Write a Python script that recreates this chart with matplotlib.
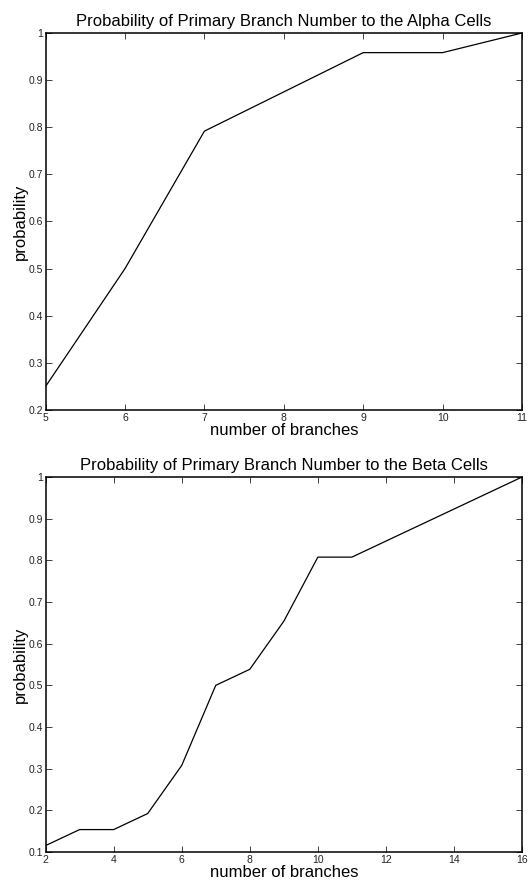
import matplotlib
matplotlib.use('Agg')
import matplotlib.pyplot as plt
import numpy as np
from matplotlib.ticker import FormatStrFormatter, FuncFormatter

plt.rcParams['font.family'] = ['Liberation Sans', 'DejaVu Sans']

# alpha cells
alpha_n = [5, 6, 7, 8, 9, 10, 11]
alpha_p = [0.25, 0.5, 0.7917, 0.875, 0.9583, 0.9583, 1.0]

# beta cells
beta_n = [2, 3, 4, 5, 6, 7, 8, 9, 10, 11, 16]
beta_p = [0.1154, 0.1538, 0.1538, 0.1923, 0.3077, 0.5, 0.5385, 0.6538, 0.8077, 0.8077, 1.0]

alpha_xticks = [5, 6, 7, 8, 9, 10, 11]
alpha_yticks = [0.2, 0.3, 0.4, 0.5, 0.6, 0.7, 0.8, 0.9, 1.0]
beta_xticks = [2, 4, 6, 8, 10, 12, 14, 16]
beta_yticks = [0.1, 0.2, 0.3, 0.4, 0.5, 0.6, 0.7, 0.8, 0.9, 1.0]

fig = plt.figure(figsize=(5.30, 8.84), dpi=100)
ax1 = fig.add_axes([0.086, 0.5362, 0.899, 0.4265])
ax2 = fig.add_axes([0.086, 0.0362, 0.899, 0.4242])

fmt = FuncFormatter(lambda v, pos: '%g' % round(v, 2))


def style(ax, x, y, xt, yt, title):
    ax.plot(x, y, 'k-', lw=0.9)
    ax.set_xlim(xt[0], xt[-1])
    ax.set_ylim(yt[0], yt[-1])
    ax.set_xticks(xt)
    ax.set_yticks(yt)
    ax.xaxis.set_major_formatter(fmt)
    ax.yaxis.set_major_formatter(fmt)
    ax.tick_params(direction='in', top=True, right=True, length=4,
                   width=0.6, labelsize=7.5, pad=2, colors='#222222')
    for s in ax.spines.values():
        s.set_linewidth(1.1)
    ax.set_title(title, fontsize=12, pad=5)
    ax.set_xlabel('number of branches', fontsize=12, labelpad=0)
    ax.set_ylabel('probability', fontsize=12, labelpad=0)


style(ax1, alpha_n, alpha_p, alpha_xticks, alpha_yticks,
      'Probability of Primary Branch Number to the Alpha Cells')
style(ax2, beta_n, beta_p, beta_xticks, beta_yticks,
      'Probability of Primary Branch Number to the Beta Cells')

fig.savefig('out.png', dpi=100)
